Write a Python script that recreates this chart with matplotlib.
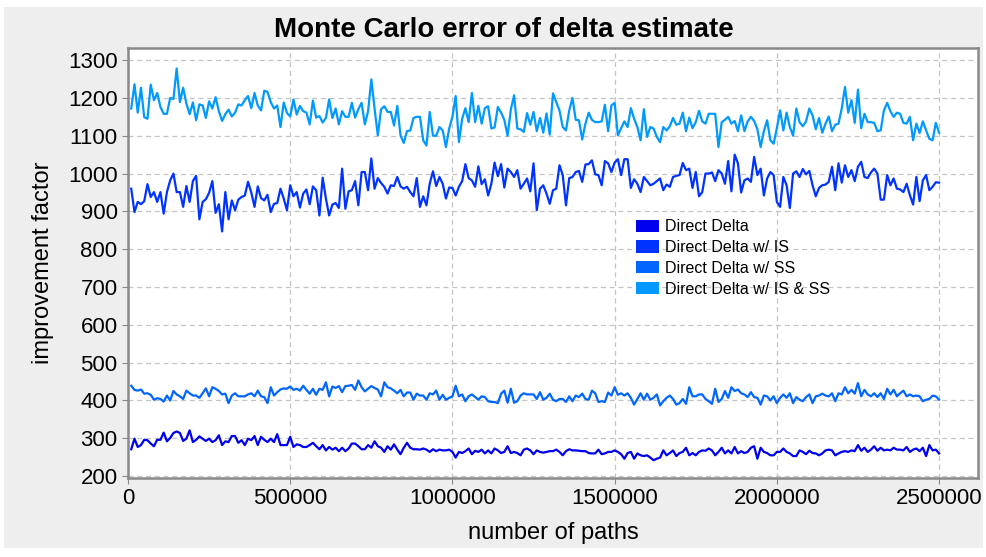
import numpy as np
import matplotlib.pyplot as plt
from matplotlib.patches import Patch, Rectangle

# improvement factor per 10000 paths
dd_is_ss = [
    1172, 1236, 1161, 1227, 1149, 1145, 1235, 1194, 1213, 1176,
    1158, 1158, 1200, 1197, 1278, 1189, 1227, 1185, 1157, 1188,
    1141, 1183, 1180, 1147, 1191, 1172, 1202, 1165, 1139, 1157,
    1169, 1151, 1161, 1183, 1180, 1194, 1205, 1173, 1213, 1180,
    1167, 1219, 1216, 1189, 1172, 1180, 1123, 1188, 1160, 1151,
    1196, 1156, 1179, 1165, 1161, 1130, 1193, 1148, 1152, 1135,
    1147, 1196, 1147, 1172, 1130,
    1165, 1150, 1150, 1187, 1148, 1170, 1187, 1130, 1165, 1249,
    1172, 1101, 1170, 1178, 1163, 1163, 1127, 1179, 1101, 1081,
    1112, 1114, 1147, 1150, 1150, 1088, 1074, 1163, 1100, 1100,
    1123, 1114, 1070, 1119, 1150, 1205, 1083, 1145, 1173, 1136,
    1213, 1136, 1179, 1132, 1173, 1178, 1119, 1122, 1176, 1161,
    1142, 1100, 1169, 1207, 1119, 1117, 1110, 1160, 1129, 1163,
    1112, 1147, 1108, 1159, 1103,
    1212, 1189, 1167, 1123, 1114, 1167, 1200, 1142, 1141, 1090,
    1132, 1161, 1142, 1136, 1136, 1138, 1182, 1112, 1180, 1187,
    1101, 1120, 1138, 1123, 1173, 1145, 1123, 1088, 1170, 1097,
    1123, 1119, 1097, 1083, 1123, 1114, 1125, 1147, 1129, 1132,
    1161, 1112, 1148, 1120, 1136, 1166, 1138, 1132, 1158, 1158,
    1158, 1070, 1136, 1142, 1150, 1132, 1139, 1112, 1154, 1112,
    1138, 1150, 1139, 1117, 1070,
    1112, 1141, 1088, 1079, 1120, 1167, 1114, 1161, 1123, 1100,
    1172, 1136, 1125, 1138, 1172, 1154, 1117, 1147, 1108, 1132,
    1151, 1112, 1129, 1132, 1172, 1229, 1161, 1194, 1134, 1222,
    1120, 1158, 1136, 1136, 1134, 1112, 1114, 1167, 1187, 1165,
    1150, 1161, 1158, 1134, 1132, 1150, 1088, 1132, 1107, 1138,
    1114, 1092, 1088, 1134, 1108,
]

dd_is = [
    960, 898, 925, 919, 927, 972, 938, 951, 925, 951,
    894, 951, 982, 1000, 951, 951, 912, 967, 925, 980,
    994, 879, 925, 932, 949, 980, 896, 919, 847, 951,
    879, 929, 903, 931, 938, 942, 978, 950, 912, 966,
    935, 929, 944, 898, 920, 922, 960, 934, 903, 969,
    940, 951, 910, 947, 958, 919, 966, 956, 889, 989,
    934, 889, 918, 922, 909,
    1013, 907, 953, 956, 980, 916, 1004, 1004, 956, 1040,
    960, 988, 975, 965, 947, 969, 967, 991, 966, 960,
    965, 951, 940, 988, 912, 940, 916, 973, 1006, 967,
    991, 973, 934, 963, 962, 942, 965, 980, 1025, 988,
    982, 965, 1019, 972, 985, 942, 973, 1029, 993, 1025,
    963, 1013, 1004, 991, 1009, 960, 973, 987, 953, 1027,
    903, 960, 969, 947, 920,
    956, 960, 1022, 996, 916, 988, 991, 1004, 1007, 978,
    1024, 1025, 1035, 998, 996, 969, 1033, 1027, 1004, 1029,
    1038, 996, 1038, 1038, 962, 985, 973, 951, 991, 980,
    969, 973, 980, 987, 956, 971, 965, 991, 994, 996,
    1028, 1009, 1013, 962, 1004, 940, 951, 1000, 1000, 1003,
    980, 1009, 1000, 973, 1033, 953, 1050, 1027, 950, 982,
    987, 978, 1044, 996, 1013,
    942, 987, 1004, 996, 925, 912, 991, 969, 909, 1000,
    1006, 991, 1012, 998, 1007, 969, 940, 962, 969, 971,
    978, 1018, 956, 1027, 976, 1022, 991, 1009, 980, 1018,
    1031, 991, 988, 1003, 1013, 1000, 931, 931, 996, 969,
    987, 960, 958, 951, 973, 943, 918, 991, 927, 982,
    996, 956, 965, 977, 976,
]

dd_ss = [
    439, 428, 426, 429, 418, 419, 415, 402, 406, 404,
    397, 413, 400, 425, 416, 411, 404, 426, 419, 413,
    413, 407, 419, 432, 411, 435, 431, 425, 416, 418,
    393, 413, 419, 411, 411, 411, 416, 419, 411, 426,
    411, 409, 393, 435, 413, 422, 429, 432, 431, 437,
    428, 431, 426, 439, 428, 418, 431, 415, 431, 428,
    448, 411, 437, 433, 438,
    422, 438, 439, 441, 428, 453, 435, 424, 431, 438,
    433, 429, 411, 448, 435, 432, 426, 419, 428, 411,
    421, 421, 402, 418, 413, 413, 402, 419, 416, 426,
    402, 415, 402, 407, 411, 439, 411, 416, 398, 411,
    416, 409, 402, 411, 409, 398, 396, 396, 393, 418,
    426, 394, 431, 394, 398, 413, 419, 416, 416, 416,
    404, 422, 402, 407, 418,
    402, 398, 404, 404, 396, 411, 398, 413, 409, 418,
    404, 402, 426, 419, 396, 398, 396, 421, 413, 435,
    415, 419, 413, 419, 407, 389, 404, 419, 402, 418,
    402, 407, 416, 387, 398, 407, 413, 404, 389, 393,
    404, 391, 435, 411, 411, 416, 416, 404, 398, 391,
    431, 396, 404, 425, 407, 435, 425, 429, 419, 416,
    409, 422, 409, 407, 389,
    413, 411, 400, 411, 393, 407, 416, 407, 419, 393,
    409, 402, 398, 409, 416, 393, 411, 413, 418, 413,
    411, 419, 398, 419, 416, 435, 419, 428, 418, 446,
    411, 428, 416, 411, 419, 409, 419, 404, 431, 416,
    428, 411, 419, 426, 411, 416, 411, 413, 411, 398,
    402, 404, 413, 411, 402,
]

dd = [
    271, 299, 277, 282, 296, 295, 286, 279, 296, 296,
    315, 292, 301, 314, 318, 314, 293, 299, 321, 290,
    296, 305, 299, 293, 299, 290, 295, 308, 282, 292,
    290, 306, 306, 288, 295, 282, 299, 295, 306, 282,
    304, 296, 290, 299, 290, 311, 282, 282, 282, 304,
    277, 284, 282, 277, 277, 282, 288, 279, 271, 282,
    268, 277, 270, 275, 266,
    275, 266, 273, 286, 286, 279, 271, 271, 282, 275,
    292, 279, 275, 264, 279, 270, 284, 270, 258, 275,
    288, 275, 271, 271, 270, 273, 270, 264, 271, 266,
    270, 268, 268, 270, 264, 249, 264, 261, 266, 273,
    258, 267, 264, 270, 260, 268, 260, 273, 268, 261,
    264, 279, 261, 264, 261, 255, 270, 273, 268, 258,
    268, 264, 262, 264, 266,
    266, 270, 264, 255, 266, 271, 268, 268, 267, 266,
    266, 261, 260, 260, 270, 258, 260, 264, 264, 268,
    264, 258, 246, 261, 264, 246, 260, 255, 253, 255,
    249, 242, 246, 249, 268, 255, 261, 268, 253, 261,
    264, 275, 255, 261, 255, 264, 268, 267, 273, 268,
    255, 264, 275, 260, 268, 260, 277, 260, 266, 261,
    264, 275, 279, 246, 275,
    264, 261, 255, 255, 264, 264, 273, 264, 260, 253,
    253, 268, 264, 258, 267, 261, 260, 255, 260, 268,
    270, 268, 255, 260, 264, 266, 264, 268, 266, 282,
    267, 275, 264, 270, 279, 267, 275, 268, 270, 268,
    275, 270, 270, 268, 277, 264, 270, 273, 266, 275,
    253, 282, 268, 270, 260,
]

labels = ["Direct Delta", "Direct Delta w/ IS", "Direct Delta w/ SS",
          "Direct Delta w/ IS & SS"]
colors = ["#0000f0", "#0033ff", "#0066ff", "#0099ff"]
series = [dd, dd_is, dd_ss, dd_is_ss]

plt.rcParams['font.family'] = ['Liberation Sans', 'DejaVu Sans']

fig = plt.figure(figsize=(9.87, 5.57), dpi=100, facecolor="white")
fig.patches.append(Rectangle((4 / 987, 1 - 548 / 557), 979 / 987, 541 / 557,
                             transform=fig.transFigure, facecolor="#eeeeee",
                             edgecolor="none", zorder=-1))
ax = fig.add_axes([128 / 987, 1 - 478 / 557, 850 / 987, 430 / 557])
ax.set_facecolor("white")

for vals, c in zip(series, colors):
    x = 10000 * np.arange(1, len(vals) + 1)
    ax.plot(x, vals, color=c, lw=1.6)

ax.set_xlim(0, 2620000)
ax.set_ylim(195, 1332)
ax.set_xticks(np.arange(0, 2500001, 500000))
ax.set_xticklabels([str(v) for v in range(0, 2500001, 500000)])
ax.set_yticks(np.arange(200, 1301, 100))
ax.grid(True, color="#c4c4c4", linestyle=(0, (4, 3)), lw=0.9)
ax.tick_params(labelsize=16, length=4, color="#888888")
for s in ax.spines.values():
    s.set_color("#8a8a8a")
    s.set_linewidth(1.8)

fig.text(504 / 987, 1 - 30 / 557, "Monte Carlo error of delta estimate",
         fontsize=20, fontweight="bold", ha="center", va="center")
ax.set_xlabel("number of paths", fontsize=17, labelpad=9)
ax.set_ylabel("improvement factor", fontsize=17, labelpad=10)

handles = [Patch(facecolor=c, edgecolor="none") for c in colors]
ax.legend(handles, labels, loc="upper left", bbox_to_anchor=(0.581, 0.635),
          frameon=False, fontsize=11.5, handlelength=1.4, handleheight=0.8,
          labelspacing=0.36, handletextpad=0.4)

fig.savefig("out.png", dpi=100, facecolor=fig.get_facecolor())
